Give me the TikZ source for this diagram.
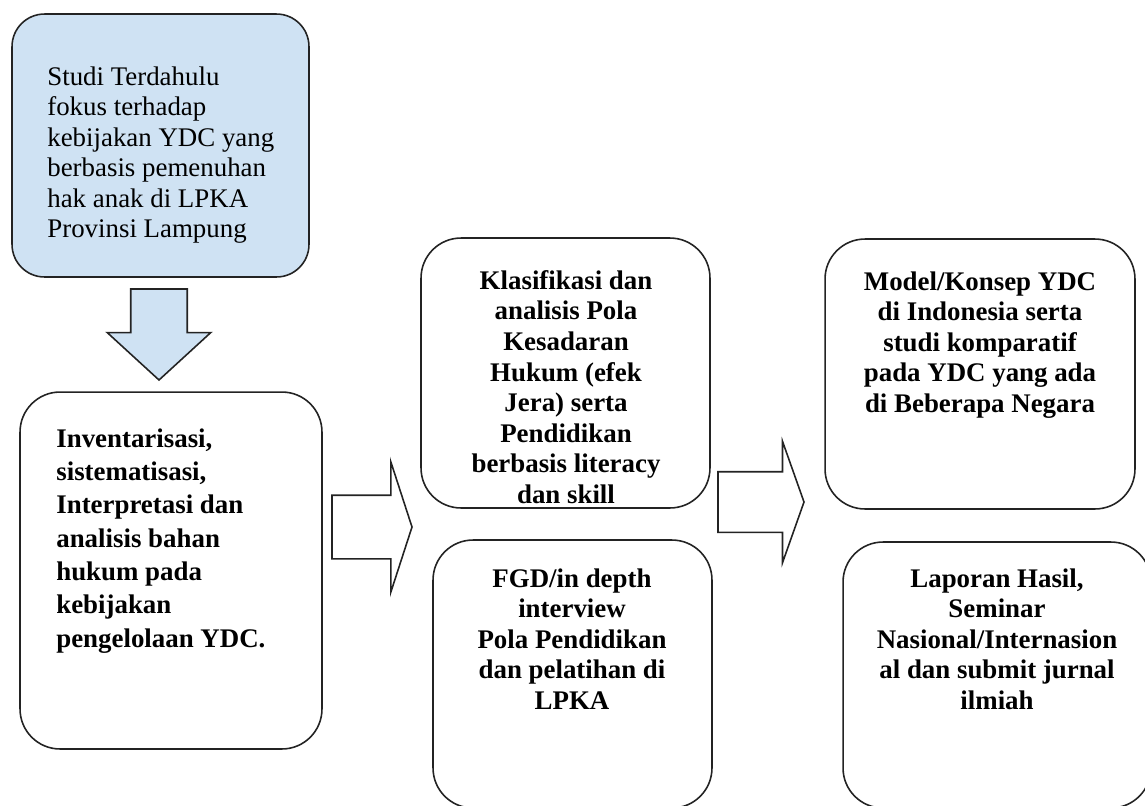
\documentclass[tikz,border=0pt]{standalone}
\usepackage{fontspec}
\setmainfont{Liberation Serif}
\usepackage{tikz}
\usetikzlibrary{shapes.arrows,positioning}
\definecolor{garis}{RGB}{35,35,35}
\definecolor{biru}{RGB}{207,226,243}
\tikzset{
  % rounded box
  kotak/.style={rectangle, rounded corners=0.8cm, draw=garis, line width=0.9pt, fill=white, inner sep=0pt},
  % box text (bold, centred)
  teks/.style={font=\fontsize{15.3}{17.4}\selectfont\bfseries, inner sep=0pt, align=center, anchor=north},
  % block arrow
  panah/.style={single arrow, draw=garis, line width=0.9pt, fill=white, inner xsep=0pt, outer sep=0pt,
                minimum width=0pt, anchor=tip},
}

\begin{document}
\begin{tikzpicture}[x=0.02cm, y=-0.02cm]
  \clip (0,0) rectangle (1145,805);

  % ═══════ KIRI ═══════
  \node[kotak, fill=biru, rounded corners=0.65cm, minimum width=5.94cm, minimum height=5.26cm] (atas) at (160.5,145.5) {};
  \node[teks, font=\fontsize{15.3}{17.4}\selectfont, align=left, anchor=north west] (tAtas) at (47,66)
    {Studi Terdahulu\\fokus terhadap\\kebijakan YDC yang\\berbasis pemenuhan\\hak anak di LPKA\\Provinsi Lampung};

  \node[panah, fill=biru, rotate=-90, inner ysep=0.55cm, single arrow head extend=0.47cm,
        single arrow tip angle=95, minimum height=1.82cm] (turun) at (159,380) {};

  \node[kotak, minimum width=6.04cm, minimum height=7.14cm] (kiri) at (171,570.5) {};
  \node[teks, font=\fontsize{15.3}{19}\selectfont\bfseries, align=left, anchor=north west] (tKiri) at (56,428)
    {Inventarisasi,\\sistematisasi,\\Interpretasi dan\\analisis bahan\\hukum pada\\kebijakan\\pengelolaan YDC.};

  \node[panah, inner ysep=0.62cm, single arrow head extend=0.67cm,
        single arrow tip angle=144, minimum height=1.6cm] (panahA) at (412,527) {};

  % ═══════ TENGAH ═══════
  \node[kotak, minimum width=5.78cm, minimum height=5.4cm] (tengahAtas) at (565.5,373) {};
  \node[teks] (tTengahAtas) at (566,270)
    {Klasifikasi dan\\analisis Pola\\Kesadaran\\Hukum (efek\\Jera) serta\\Pendidikan\\berbasis literacy\\dan skill};

  \node[kotak, minimum width=5.58cm, minimum height=5.36cm] (tengahBawah) at (572.5,674) {};
  \node[teks] (tTengahBawah) at (572,568)
    {FGD/in depth\\interview\\Pola Pendidikan\\dan pelatihan di\\LPKA};

  \node[panah, inner ysep=0.59cm, single arrow head extend=0.61cm,
        single arrow tip angle=141, minimum height=1.72cm] (panahB) at (804,502) {};

  % ═══════ KANAN ═══════
  \node[kotak, minimum width=6.2cm, minimum height=5.4cm] (kananAtas) at (980,374) {};
  \node[teks] (tKananAtas) at (980,271)
    {Model/Konsep YDC\\di Indonesia serta\\studi komparatif\\pada YDC yang ada\\di Beberapa Negara};

  \node[kotak, minimum width=6.16cm, minimum height=5.32cm] (kananBawah) at (997,675) {};
  \node[teks] (tKananBawah) at (997,568)
    {Laporan Hasil,\\Seminar\\Nasional/Internasion\\al dan submit jurnal\\ilmiah};

\end{tikzpicture}
\end{document}
